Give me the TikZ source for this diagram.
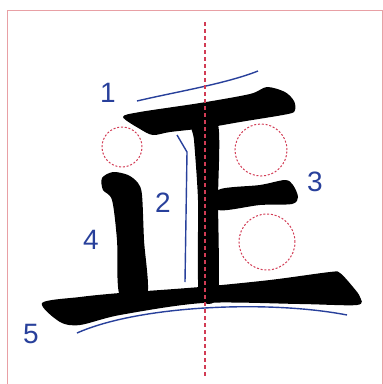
\documentclass[tikz,border=0pt]{standalone}
\usepackage{fontspec}
\setsansfont{Liberation Sans}
\usepackage{xcolor}
\usetikzlibrary{arrows.meta, positioning, calc}
\definecolor{guideblue}{RGB}{40,64,155}
\definecolor{helpred}{RGB}{210,60,85}
\definecolor{framepink}{RGB}{232,160,165}

\begin{document}
\begin{tikzpicture}[x=1pt, y=-1pt,
    ink/.style={fill=black},
    guide/.style={draw=guideblue, line width=1.4pt},
    helper/.style={draw=helpred, dash pattern=on 2pt off 1.8pt, line width=1pt},
    axisline/.style={draw=helpred, dash pattern=on 4pt off 3pt, line width=1.1pt},
    every node/.style={text=guideblue, font=\sffamily\fontsize{28}{28}\selectfont, inner sep=0pt}]
    \useasboundingbox (0,0) rectangle (383,384);
    \draw[framepink, line width=0.8pt] (7,384) -- (7,10) -- (382,10) -- (382,384);

    \fill[ink] plot[smooth cycle, tension=0.5] coordinates {(123,117) (140,112) (200,103) (250,94) (267,87)
        (285,92) (294,101) (295,110) (288,114) (240,122) (205,128) (170,132) (153,135) (140,129)};
    \fill[ink] plot[smooth cycle, tension=0.4] coordinates {(192,125) (218,125) (218,200) (218,296)
        (199,296) (198,200) (194,140)};
    \fill[ink] plot[smooth cycle, tension=0.5] coordinates {(218,190) (260,185) (285,180) (293,185)
        (298,197) (292,204) (260,205) (218,210)};
    \fill[ink] plot[smooth cycle, tension=0.5] coordinates {(102,178) (113,172) (128,175) (138,183)
        (142,195) (144,240) (147,296) (120,296) (117,240) (112,200) (103,190)};
    \fill[ink] plot[smooth cycle, tension=0.5] coordinates {(42,303) (80,297) (120,293) (200,287)
        (270,280) (330,272) (340,273) (353,287) (360,297) (357,305) (300,304) (203,303) (120,315)
        (80,325) (60,322)};

    \draw[helper] (122,147) circle[radius=20pt];
    \draw[helper] (261,150) circle[radius=26pt];
    \draw[helper] (267,242) circle[radius=28pt];

    \draw[guide] (137,101) .. controls (175,92) and (225,84) .. (258,71);
    \draw[guide] (177,135) -- (187,152) -- (185,282);
    \draw[guide] (77,333) .. controls (140,305) and (270,300) .. (347,315);

    \draw[axisline] (205,22) -- (205,378);

    \node (n1) at (108,93) {1};
    \node (n2) at (163,203) {2};
    \node (n3) at (315,182) {3};
    \node (n4) at (91,240) {4};
    \node (n5) at (31,334) {5};
\end{tikzpicture}
\end{document}
